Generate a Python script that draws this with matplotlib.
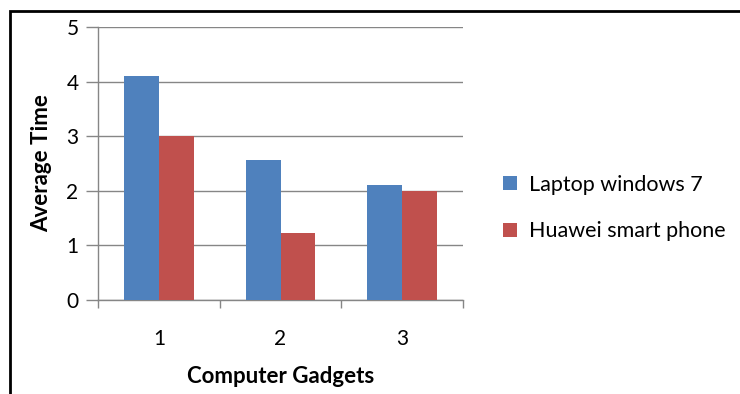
import numpy as np
import matplotlib.pyplot as plt
from matplotlib.patches import Rectangle

categories = ["1", "2", "3"]
series_names = ["Laptop windows 7", "Huawei smart phone"]
laptop = [4.1, 2.57, 2.1]
phone = [3.0, 1.22, 2.0]
y_ticks = [0, 1, 2, 3, 4, 5]

plt.rcParams["font.family"] = ["Lato", "DejaVu Sans"]

blue = "#4f81bd"
red = "#c0504d"
grey = "#868686"

W, H = 740, 394
fig = plt.figure(figsize=(W / 100, H / 100), dpi=100)
ax = fig.add_axes([98 / W, 1 - 300 / H, (463 - 98) / W, (300 - 27) / H])

x = np.arange(1, len(categories) + 1)
bw = 1 / 3.5
ax.bar(x - bw / 2, laptop, width=bw, color=blue, label=series_names[0], zorder=3)
ax.bar(x + bw / 2, phone, width=bw, color=red, label=series_names[1], zorder=3)

ax.set_xlim(0.5, len(categories) + 0.5)
ax.set_ylim(0, 5)
ax.set_yticks(y_ticks)
ax.set_xticks(x)
ax.set_xticklabels(categories)
ax.set_xticks(np.arange(0.5, len(categories) + 1, 1), minor=True)
ax.yaxis.grid(True, color=grey, lw=1.0, zorder=0)
ax.set_axisbelow(True)

for side in ("top", "right"):
    ax.spines[side].set_visible(False)
for side in ("left", "bottom"):
    ax.spines[side].set_color(grey)
    ax.spines[side].set_linewidth(1.0)

ax.tick_params(axis="y", length=9, width=1.0, color=grey, labelsize=15, pad=5)
ax.tick_params(axis="x", which="major", length=0, labelsize=15, pad=21)
ax.tick_params(axis="x", which="minor", length=6, width=1.0, color=grey)

ax.set_xlabel("Computer Gadgets", fontsize=16, fontweight="bold", labelpad=12)
ax.set_ylabel("Average Time", fontsize=16, fontweight="bold", labelpad=10)

fig.legend(
    loc="center left",
    bbox_to_anchor=(484 / W, 1 - 208 / H),
    frameon=False,
    fontsize=15.5,
    handlelength=0.65,
    handleheight=0.65,
    handletextpad=0.55,
    labelspacing=1.25,
)

# outer frame
fig.patches.append(
    Rectangle((10 / W, -0.05), 1.1, 1 - 11 / H + 0.05, transform=fig.transFigure,
              fill=False, edgecolor="black", lw=2.0)
)

fig.savefig("out.png", dpi=100, facecolor="white")
